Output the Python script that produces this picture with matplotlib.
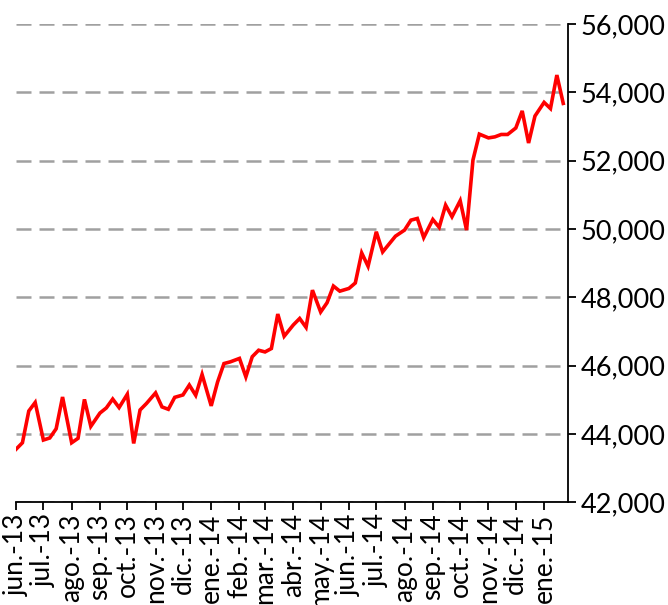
import matplotlib
matplotlib.use("Agg")
import matplotlib.pyplot as plt
from matplotlib.ticker import FuncFormatter
import pandas as pd

# four readings per month (days 1, 8, 15, 22), jun-2013 .. ene-2015
months = pd.date_range("2013-06-01", "2015-01-01", freq="MS")
days = [1, 8, 15, 22]

month_labels = ["jun.-13", "jul.-13", "ago.-13", "sep.-13", "oct.-13", "nov.-13",
                "dic.-13", "ene.-14", "feb.-14", "mar.-14", "abr.-14", "may.-14",
                "jun.-14", "jul.-14", "ago.-14", "sep.-14", "oct.-14", "nov.-14",
                "dic.-14", "ene.-15"]

values = [
    43550, 43740, 44670, 44920,   # jun-13
    43820, 43880, 44150, 45080,   # jul-13
    43740, 43870, 45010, 44220,   # ago-13
    44610, 44760, 45020, 44770,   # sep-13
    45160, 43720, 44700, 44890,   # oct-13
    45200, 44790, 44720, 45070,   # nov-13
    45140, 45430, 45130, 45740,   # dic-13
    44820, 45520, 46060, 46110,   # ene-14
    46210, 45670, 46260, 46450,   # feb-14
    46400, 46500, 47510, 46860,   # mar-14
    47190, 47380, 47120, 48210,   # abr-14
    47570, 47840, 48330, 48180,   # may-14
    48260, 48420, 49300, 48910,   # jun-14
    49920, 49330, 49560, 49790,   # jul-14
    49970, 50260, 50310, 49750,   # ago-14
    50280, 50050, 50700, 50360,   # sep-14
    50830, 49970, 52020, 52780,   # oct-14
    52670, 52700, 52770, 52770,   # nov-14
    52960, 53460, 52520, 53310,   # dic-14
    53710, 53530, 54510, 53680,   # ene-15
]

dates = [m + pd.Timedelta(days=d - 1) for m in months for d in days]

plt.rcParams["font.family"] = ["Lato", "DejaVu Sans"]

fig = plt.figure(figsize=(6.68, 6.05), dpi=100)
ax = fig.add_axes([0.024, 0.170, 0.826, 0.790])

ax.plot(dates, values, color="#FF0000", lw=2.6, solid_joinstyle="miter")

ax.set_xlim(pd.Timestamp("2013-06-01"), pd.Timestamp("2015-01-27"))
ax.set_ylim(42000, 56000)

ax.yaxis.tick_right()
ax.set_yticks(range(42000, 56001, 2000))
ax.yaxis.set_major_formatter(FuncFormatter(lambda v, p: f"{int(v):,}"))
ax.set_xticks(months)
ax.set_xticklabels(month_labels, rotation=90)

for s in ["left", "top"]:
    ax.spines[s].set_visible(False)
for s in ["right", "bottom"]:
    ax.spines[s].set_linewidth(1.3)

ax.tick_params(axis="y", direction="out", length=6, width=1.3, pad=3, labelsize=19.5)
ax.tick_params(axis="x", direction="out", length=6, width=1.3, pad=2, labelsize=19)

ax.yaxis.grid(True, color="#A0A0A0", lw=1.8, dashes=(6, 3.2))
ax.set_axisbelow(True)

fig.savefig("out.png", dpi=100)
